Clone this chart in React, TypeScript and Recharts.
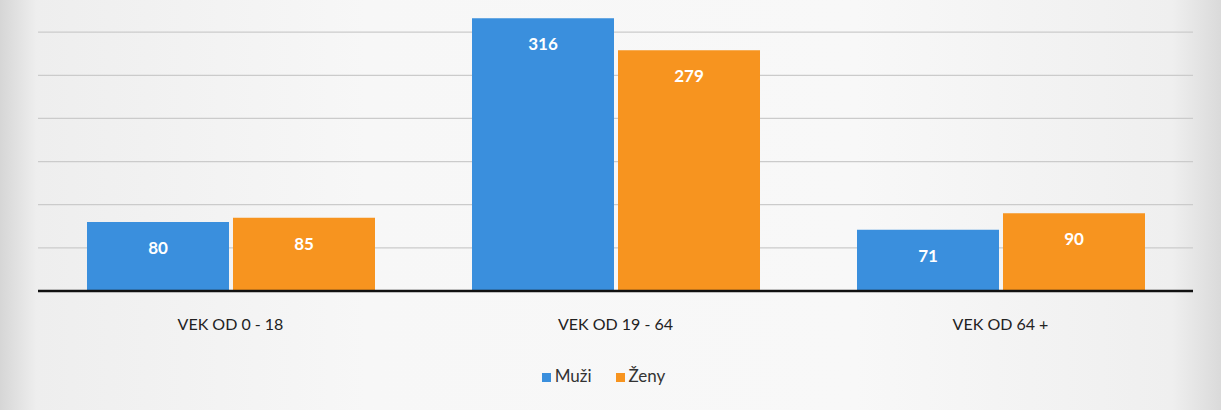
import {
  BarChart,
  Bar,
  XAxis,
  YAxis,
  CartesianGrid,
  Legend,
  LabelList,
} from "recharts";

const categories = ["VEK OD 0 - 18", "VEK OD 19 - 64", "VEK OD 64 +"];
const muzi = [80, 316, 71];
const zeny = [85, 279, 90];
const yTicks = [0, 50, 100, 150, 200, 250, 300, 350];

const data = categories.map((name, i) => ({
  name,
  muzi: muzi[i],
  zeny: zeny[i],
}));

const FONT = "Lato, 'Open Sans', sans-serif";

export default function App() {
  return (
    <div
      style={{
        position: "absolute",
        left: 0,
        top: 0,
        width: 1221,
        height: 410,
        background:
          "linear-gradient(to right, #d6d6d6 0%, #eeeeee 3%, #f7f7f7 30%, #f8f8f8 70%, #efefef 96%, #dadada 100%)",
        fontFamily: FONT,
        overflow: "hidden",
      }}
    >
      <BarChart
        width={1221}
        height={410}
        data={data}
        // top of the value range is cropped off in the original photo
        margin={{ top: -11, right: 28, bottom: 68, left: 38 }}
        barCategoryGap={49}
        barGap={4}
      >
        <CartesianGrid vertical={false} stroke="#cbcbcb" strokeWidth={1.2} />
        <YAxis hide domain={[0, 350]} ticks={yTicks} interval={0} />
        <XAxis
          dataKey="name"
          tickLine={false}
          axisLine={{ stroke: "#111", strokeWidth: 2.5 }}
          tickMargin={22}
          tick={{ fill: "#222", fontSize: 16, fontFamily: FONT }}
        />
        <Legend
          verticalAlign="bottom"
          iconType="square"
          iconSize={9}
          wrapperStyle={{ top: 365, fontSize: 17, fontFamily: FONT }}
          formatter={(v: any) => (
            <span style={{ color: "#333", marginRight: 14 }}>{v}</span>
          )}
        />
        <Bar dataKey="muzi" name="Muži" fill="#3a8fdd" isAnimationActive={false}>
          <LabelList
            dataKey="muzi"
            position="insideTop"
            offset={20}
            fill="#fff"
            fontSize={17}
            fontWeight="bold"
            fontFamily={FONT}
          />
        </Bar>
        <Bar dataKey="zeny" name="Ženy" fill="#f7941f" isAnimationActive={false}>
          <LabelList
            dataKey="zeny"
            position="insideTop"
            offset={20}
            fill="#fff"
            fontSize={17}
            fontWeight="bold"
            fontFamily={FONT}
          />
        </Bar>
      </BarChart>
    </div>
  );
}
